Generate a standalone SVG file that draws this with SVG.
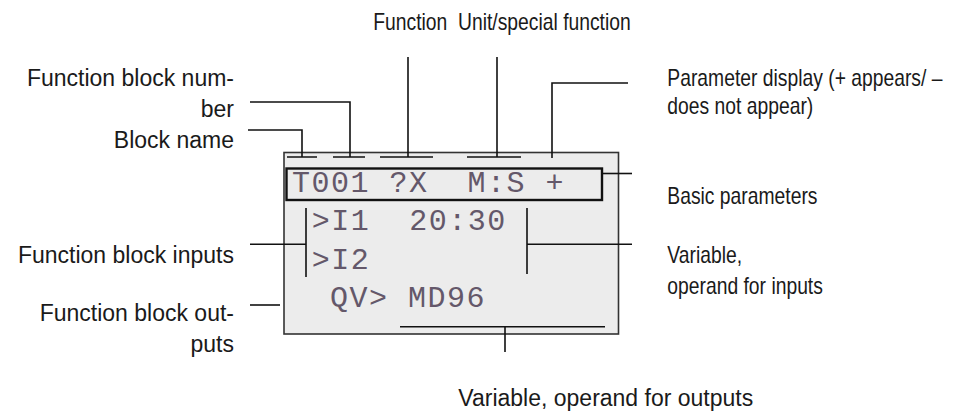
<svg xmlns="http://www.w3.org/2000/svg" width="954" height="412" viewBox="0 0 954 412">
<style>
.lbl{font-family:"Liberation Sans",Arial,sans-serif;font-size:23px;fill:#1a1a1a}
.cnd{font-family:"Liberation Sans",Arial,sans-serif;font-size:23px;fill:#1a1a1a}
.lcd{font-family:"Liberation Mono","Courier New",monospace;font-size:30px;fill:#64586a;letter-spacing:1.5px}
.ln{stroke:#111;stroke-width:1.6;fill:none}
</style>
<rect width="954" height="412" fill="#ffffff"/>
<g id="display">
  <rect x="284" y="152.5" width="334.5" height="181.5" fill="#ececec" stroke="#333" stroke-width="1.6"/>
  <rect x="286.5" y="168.5" width="315.5" height="31.5" fill="#ececec" stroke="#111" stroke-width="2.4"/>
  <text class="lcd" x="292" y="192" xml:space="preserve">T001 ?X  M:S +</text>
  <text class="lcd" x="311.7" y="229.5" xml:space="preserve">&gt;I1  20:30</text>
  <text class="lcd" x="311.7" y="269">&gt;I2</text>
  <text class="lcd" x="330" y="306.5" xml:space="preserve">QV&gt; MD96</text>
</g>
<g id="connectors" class="ln">
  <path d="M248 130H302V157"/>
  <path d="M250 102H350V157"/>
  <path d="M408 57V157"/>
  <path d="M497 57V157"/>
  <path d="M628 83H552V158"/>
  <path d="M287 157H317M333 157H365M380 157H433M467 157H521"/>
  <path d="M602 173.5H632"/>
  <path d="M250 244.3H306M306 208V277"/>
  <path d="M527 208V274M527 244.3H632"/>
  <path d="M250 305H280"/>
  <path d="M400 326.7H605M505 326.7V352"/>
</g>
<g id="lbl-function"><text class="cnd" transform="translate(373.3,30) scale(0.84,1)">Function</text></g>
<g id="lbl-unit"><text class="cnd" transform="translate(458,30) scale(0.84,1)">Unit/special function</text></g>
<g id="lbl-block-number">
  <text class="lbl" x="234" y="86" text-anchor="end">Function block num-</text>
  <text class="lbl" x="234" y="117" text-anchor="end">ber</text>
</g>
<g id="lbl-block-name"><text class="lbl" x="234" y="148" text-anchor="end">Block name</text></g>
<g id="lbl-inputs"><text class="lbl" x="234" y="263" text-anchor="end">Function block inputs</text></g>
<g id="lbl-outputs">
  <text class="lbl" x="234" y="321" text-anchor="end">Function block out-</text>
  <text class="lbl" x="234" y="352" text-anchor="end">puts</text>
</g>
<g id="lbl-param-display">
  <text class="cnd" transform="translate(667.3,86) scale(0.84,1)">Parameter display (+ appears/ –</text>
  <text class="cnd" transform="translate(667.3,114) scale(0.84,1)">does not appear)</text>
</g>
<g id="lbl-basic"><text class="cnd" transform="translate(667.3,204) scale(0.84,1)">Basic parameters</text></g>
<g id="lbl-var-in">
  <text class="cnd" transform="translate(667.3,263) scale(0.84,1)">Variable,</text>
  <text class="cnd" transform="translate(667.3,294) scale(0.84,1)">operand for inputs</text>
</g>
<g id="lbl-var-out"><text class="lbl" x="458.3" y="406">Variable, operand for outputs</text></g>
</svg>
